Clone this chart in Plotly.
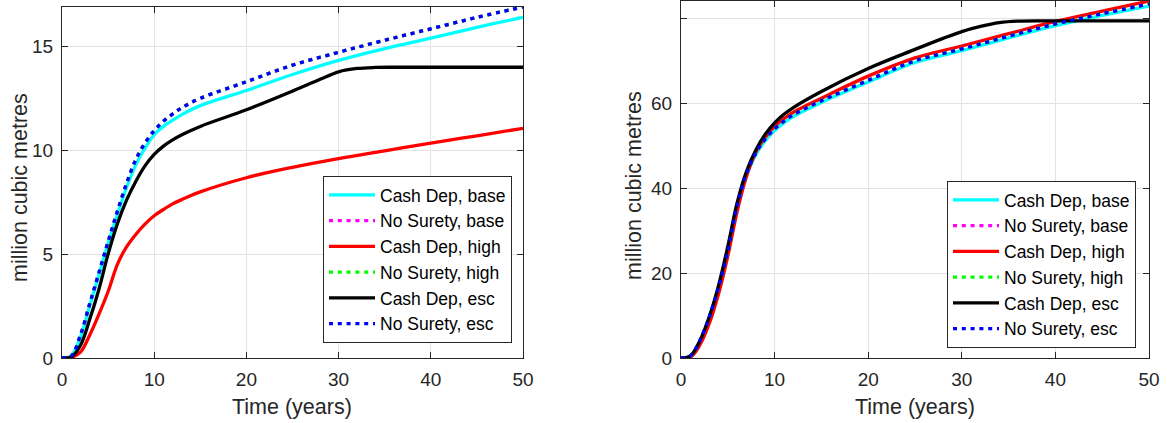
import plotly.graph_objects as go

# ---------------- data ----------------
names = ["Cash Dep, base", "No Surety, base", "Cash Dep, high",
         "No Surety, high", "Cash Dep, esc", "No Surety, esc"]
colors = ["#00FFFF", "#FF00FF", "#FF0000", "#00FF00", "#000000", "#0000FF"]
dashes = ["solid", "dot", "solid", "dot", "solid", "dot"]

# Left panel (million cubic metres)
t_left = [0, 1, 2, 3, 4, 5, 6, 7, 8, 9, 10, 11, 12, 13, 15, 20, 25, 30, 35, 40, 45, 50]
left_cash_base = [0, 0.1, 1.0, 2.5, 4.0, 5.5, 6.9, 8.2, 9.3, 10.1, 10.75, 11.15, 11.45, 11.72,
                  12.15, 12.88, 13.65, 14.33, 14.9, 15.4, 15.92, 16.4]
left_nosurety = [0, 0.1, 1.1, 2.6, 4.1, 5.6, 7.05, 8.4, 9.55, 10.35, 10.95, 11.4, 11.75, 12.05,
                 12.5, 13.3, 14.1, 14.72, 15.3, 15.85, 16.4, 16.9]
left_cash_high = [0, 0.03, 0.28, 1.1, 2.1, 3.2, 4.5, 5.35, 5.95, 6.45, 6.85, 7.15, 7.42, 7.63,
                  8.0, 8.68, 9.18, 9.6, 9.97, 10.35, 10.7, 11.06]
t_left_esc = [0, 1, 2, 3, 4, 5, 6, 7, 8, 9, 10, 11, 12, 13, 15, 20, 25, 28, 30, 32, 34, 36, 40, 45, 50]
left_cash_esc = [0, 0.05, 0.6, 1.85, 3.3, 5.0, 6.45, 7.6, 8.5, 9.25, 9.8, 10.2, 10.5, 10.75,
                 11.15, 11.95, 12.85, 13.42, 13.78, 13.94, 13.99, 14.0, 14.0, 14.0, 14.0]

# Right panel (million cubic metres)
t_right = [0, 1, 2, 3, 4, 5, 6, 7, 8, 9, 10, 11, 12, 15, 20, 25, 30, 35, 40, 45, 50]
right_cash_base = [0, 0.4, 3.8, 9.3, 16.3, 24.8, 35.5, 43.0, 47.9, 51.2, 53.6, 55.4, 56.9, 60.2,
                   65.0, 69.6, 72.4, 75.4, 78.3, 80.7, 82.9]
right_nosurety = [0, 0.5, 4.0, 9.5, 16.5, 25.0, 35.8, 43.4, 48.3, 51.6, 54.0, 55.8, 57.3, 60.6,
                  65.4, 70.0, 72.8, 75.8, 78.7, 81.1, 83.4]
right_cash_high = [0, 0.2, 3.0, 8.0, 15.0, 24.0, 34.5, 42.8, 48.5, 52.0, 54.6, 56.4, 57.9, 61.2,
                   66.4, 70.7, 73.5, 76.4, 79.3, 81.7, 84.1]
t_right_esc = [0, 1, 2, 3, 4, 5, 6, 7, 8, 9, 10, 11, 12, 15, 20, 25, 28, 30, 32, 34, 36, 40, 45, 50]
right_cash_esc = [0, 0.5, 4.0, 9.6, 17.0, 26.3, 36.6, 44.0, 49.0, 52.7, 55.4, 57.4, 59.0, 62.8,
                  68.2, 72.7, 75.3, 76.9, 78.1, 79.0, 79.35, 79.4, 79.4, 79.4]

left_series = [(t_left, left_cash_base), (t_left, left_nosurety), (t_left, left_cash_high),
               (t_left, left_nosurety), (t_left_esc, left_cash_esc), (t_left, left_nosurety)]
right_series = [(t_right, right_cash_base), (t_right, right_nosurety), (t_right, right_cash_high),
                (t_right, right_nosurety), (t_right_esc, right_cash_esc), (t_right, right_nosurety)]

x_ticks = [0, 10, 20, 30, 40, 50]
left_y_ticks = [0, 5, 10, 15]
right_y_ticks = [0, 20, 40, 60, 80]
right_y_ticktext = ["0", "20", "40", "60", ""]

# ---------------- figure ----------------
W, H = 1167, 423
FONT = "Liberation Sans, Arial, sans-serif"
AX = "#262626"
DOT = "4px,4.8px"

fig = go.Figure()
for i in range(6):
    dash = DOT if dashes[i] == "dot" else "solid"
    fig.add_trace(go.Scatter(x=left_series[i][0], y=left_series[i][1], mode="lines",
                             name=names[i], legend="legend",
                             line=dict(color=colors[i], width=3.3, dash=dash,
                                       shape="spline", smoothing=1.0),
                             xaxis="x", yaxis="y"))
for i in range(6):
    dash = DOT if dashes[i] == "dot" else "solid"
    fig.add_trace(go.Scatter(x=right_series[i][0], y=right_series[i][1], mode="lines",
                             name=names[i], legend="legend2",
                             line=dict(color=colors[i], width=3.3, dash=dash,
                                       shape="spline", smoothing=1.0),
                             xaxis="x2", yaxis="y2"))

def px_x(p):
    return p / W

def px_y(p):
    return 1 - p / H

axis_common = dict(showline=True, linecolor=AX, linewidth=1, mirror="allticks",
                   ticks="inside", ticklen=6, tickcolor=AX, tickwidth=1,
                   showgrid=True, gridcolor="#e3e3e3", gridwidth=1, zeroline=False,
                   tickfont=dict(family=FONT, size=19, color=AX), automargin=False)

legend_common = dict(xanchor="right", yanchor="bottom",
                     bgcolor="white", bordercolor=AX, borderwidth=1,
                     font=dict(family=FONT, size=17.5, color="black"),
                     itemwidth=46, tracegroupgap=0)

fig.update_layout(
    width=W, height=H,
    margin=dict(l=0, r=0, t=0, b=0),
    paper_bgcolor="white", plot_bgcolor="white",
    xaxis=dict(domain=[px_x(62), px_x(523)], range=[0, 50], tickvals=x_ticks,
               anchor="y", ticklabelstandoff=4, **axis_common),
    yaxis=dict(domain=[px_y(358), px_y(7)], range=[0, 16.9], tickvals=left_y_ticks,
               anchor="x", ticklabelstandoff=4, **axis_common),
    xaxis2=dict(domain=[px_x(681), px_x(1149)], range=[0, 50], tickvals=x_ticks,
                anchor="y2", ticklabelstandoff=4, **axis_common),
    yaxis2=dict(domain=[px_y(358), px_y(1)], range=[0, 84.1], tickvals=right_y_ticks,
                ticktext=right_y_ticktext, anchor="x2", ticklabelstandoff=4, **axis_common),
    legend=dict(x=px_x(512), y=px_y(343), **legend_common),
    legend2=dict(x=px_x(1136), y=px_y(348), **legend_common),
    showlegend=True,
)

title_font = dict(family=FONT, size=21.5, color=AX)
annotations = [
    dict(text="million cubic metres", x=px_x(20), y=px_y(188), textangle=-90),
    dict(text="million cubic metres", x=px_x(634), y=px_y(186), textangle=-90),
    dict(text="Time (years)", x=px_x(292), y=px_y(407)),
    dict(text="Time (years)", x=px_x(915), y=px_y(407)),
]
for a in annotations:
    fig.add_annotation(xref="paper", yref="paper", showarrow=False,
                       xanchor="center", yanchor="middle", font=title_font, **a)

fig.write_html("out.html")
